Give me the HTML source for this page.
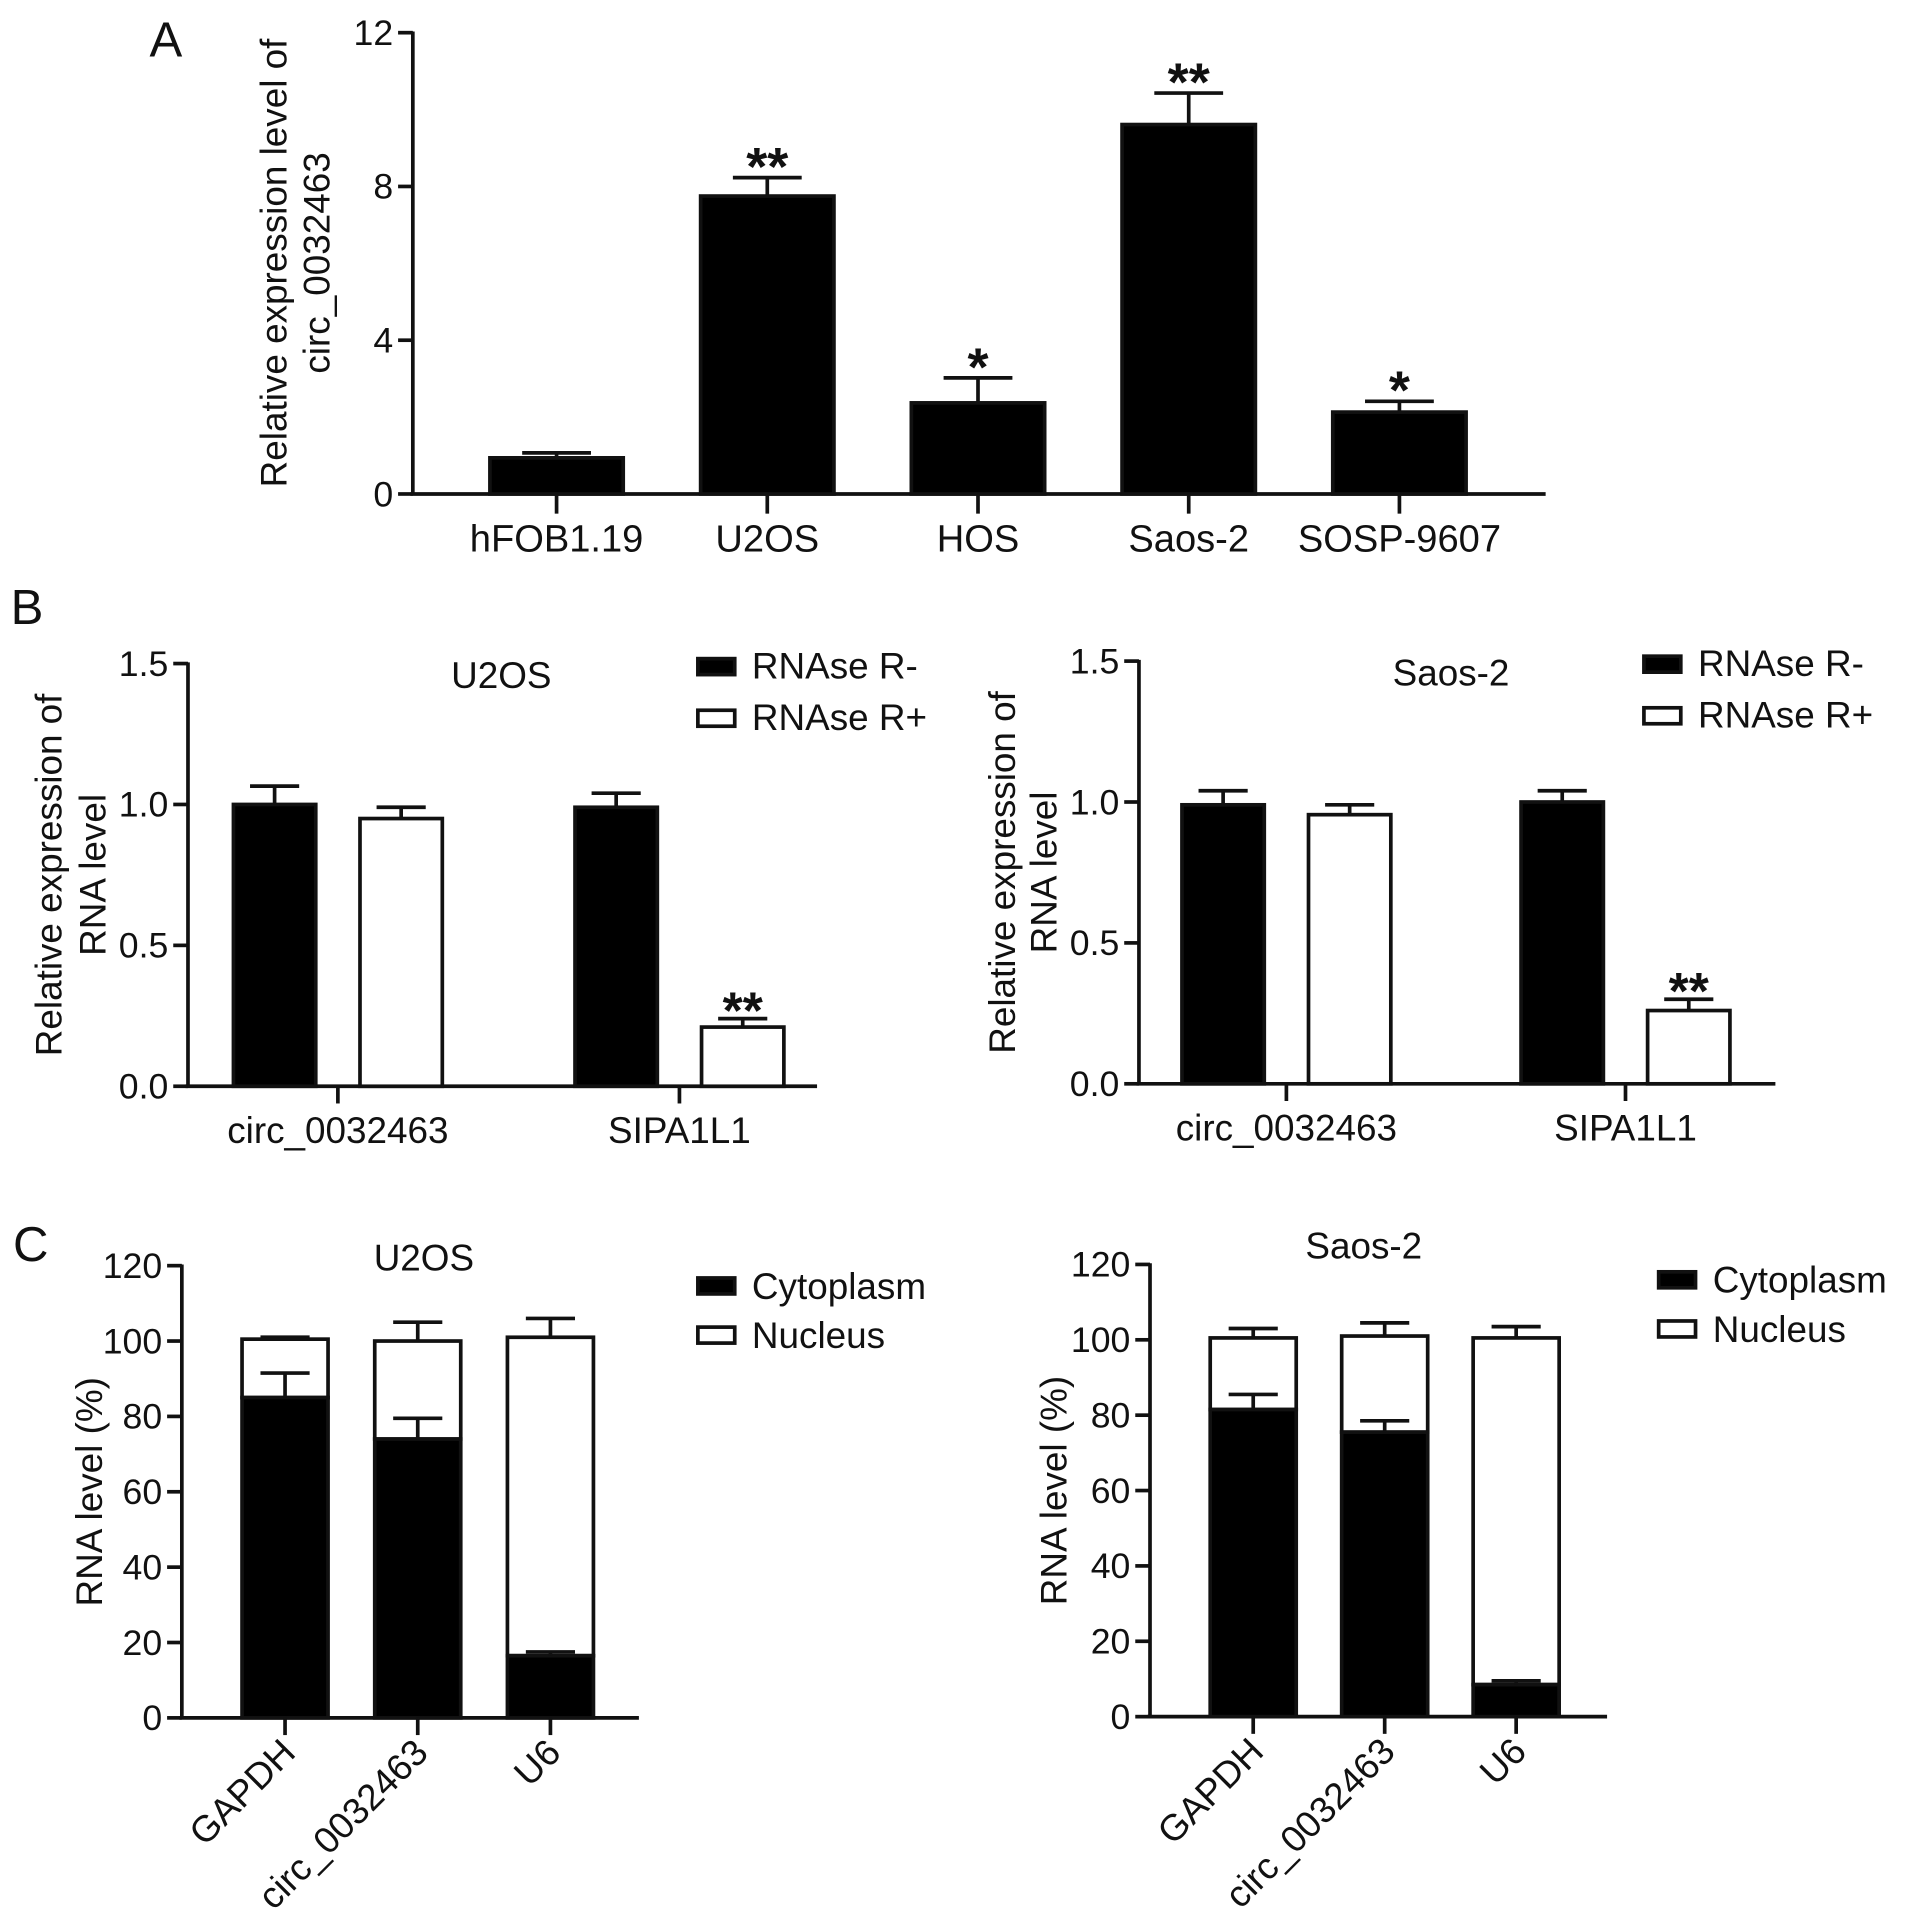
<!DOCTYPE html>
<html><head><meta charset="utf-8"><style>
html,body{margin:0;padding:0;background:#fff}
svg{display:block}
text{font-family:"Liberation Sans",Arial,sans-serif;fill:#111}
</style></head><body>
<svg id="fig" width="1913" height="1928" viewBox="0 0 1557 1569" preserveAspectRatio="none" xmlns="http://www.w3.org/2000/svg"></svg>
<script>
// Panel A data
const aCats=["hFOB1.19","U2OS","HOS","Saos-2","SOSP-9607"];
const aVals=[0.94,7.75,2.37,9.61,2.13];
const aErr=[1.07,8.23,3.02,10.43,2.41];
const aSig=["","**","*","**","*"];
const aTicks=[0,4,8,12];
// Panel B data
const bCats=["circ_0032463","SIPA1L1"];
const bU2osMinus=[1.0,0.99];
const bU2osMinusErr=[1.065,1.04];
const bU2osPlus=[0.95,0.21];
const bU2osPlusErr=[0.99,0.24];
const bSaosMinus=[0.99,1.0];
const bSaosMinusErr=[1.04,1.04];
const bSaosPlus=[0.955,0.26];
const bSaosPlusErr=[0.99,0.30];
const bSig=["","**"];
const bTicks=[0.0,0.5,1.0,1.5];
// Panel C data
const cCats=["GAPDH","circ_0032463","U6"];
const cU2osCyto=[85,74,16.5];
const cU2osCytoErr=[91.5,79.5,17.5];
const cU2osTotal=[100.5,100,101];
const cU2osTotalErr=[101,105,106];
const cSaosCyto=[81.5,75.5,8.5];
const cSaosCytoErr=[85.5,78.5,9.5];
const cSaosTotal=[100.5,101,100.5];
const cSaosTotalErr=[103,104.5,103.5];
const cTicks=[0,20,40,60,80,100,120];

const svg=document.getElementById('fig');
const NS="http://www.w3.org/2000/svg";
function mk(tag,attrs,name,parent){
  const e=document.createElementNS(NS,tag);
  for(const k in attrs)e.setAttribute(k,attrs[k]);
  
  
  (parent||svg).appendChild(e);return e;
}
function txt(x,y,s,size,anchor,name,extra){
  const t=mk('text',Object.assign({x:x,y:y,'font-size':size,'text-anchor':anchor||'middle'},extra||{}),name);
  t.textContent=s;return t;
}
function line(x1,y1,x2,y2,w,name){return mk('line',{x1:x1,y1:y1,x2:x2,y2:y2,stroke:'#111','stroke-width':w||3},name);}
function yAxis(x,y0,y1,vmax,ticks,x2,name,fmt){
  const ys=v=>y0-(v/vmax)*(y0-y1);
  line(x,y1-1,x,y0+1,3,name+'-y-axis');
  line(x-2,y0,x2,y0,3,name+'-x-axis');
  ticks.forEach(t=>{line(x-12,ys(t),x,ys(t),3,name+'-y-tick');
    txt(x-16,ys(t)+10,fmt(t),29,'end',name+'-y-tick-label');});
  return ys;
}
function bar(x,w,ys,v,fill,name){
  mk('rect',{x:x,y:ys(v),width:w,height:ys(0)-ys(v),fill:fill,stroke:'#111','stroke-width':3},name);
}
function err(cx,ys,v,e,cw,name){
  line(cx,ys(v),cx,ys(e),3,name);
  line(cx-cw/2,ys(e),cx+cw/2,ys(e),3,name+'-cap');
}

// ===== Panel A =====
txt(135,46,"A",40,'middle','panel-a-label');
(function(){
  const ax=336,y0=402,y1=26.6;
  const ys=yAxis(ax,y0,y1,12,aTicks,1258,'panel-a',t=>String(t));
  const c0=453,step=171.5,w=108.5;
  aCats.forEach((c,i)=>{
    const cx=c0+i*step;
    err(cx,ys,aVals[i],aErr[i],56,'panel-a-error-bar');
    bar(cx-w/2,w,ys,aVals[i],'#000','bar-'+c.toLowerCase());
    line(cx,y0,cx,y0+16,3,'panel-a-x-tick');
    txt(cx,449,c,31,'middle','panel-a-x-label');
    if(aSig[i])txt(cx,ys(aErr[i])+6,aSig[i],44,'middle','panel-a-significance',{'font-weight':'bold'});
  });
  txt(0,0,"Relative expression level of",30,'middle','panel-a-y-title',{transform:'translate(233,214) rotate(-90)'});
  txt(0,0,"circ_0032463",30,'middle','panel-a-y-title-2',{transform:'translate(268,214) rotate(-90)'});
})();

// ===== Panel B =====
txt(22,508,"B",40,'middle','panel-b-label');
function panelB(ax,y0,xend,minus,minusErr,plus,plusErr,title,tx,legX,yt1,yt2,pref,bx){
  const y1=y0-344;
  const ys=yAxis(ax,y0,y1,1.5,bTicks,xend,pref,t=>t.toFixed(1));
  const w=67;
  bCats.forEach((c,i)=>{
    const xb=bx[i];
    err(xb+w/2,ys,minus[i],minusErr[i],40,pref+'-error-bar');
    bar(xb,w,ys,minus[i],'#000',pref+'-bar-rnase-minus');
    const xw=xb+103;
    err(xw+w/2,ys,plus[i],plusErr[i],40,pref+'-error-bar');
    bar(xw,w,ys,plus[i],'#fff',pref+'-bar-rnase-plus');
    if(bSig[i])txt(xw+w/2,ys(plusErr[i])+8,bSig[i],42,'middle',pref+'-significance',{'font-weight':'bold'});
    const gc=xb+(w+103)/2;
    line(gc,y0,gc,y0+14,3,pref+'-x-tick');
    txt(gc,y0+46,c,30,'middle',pref+'-x-label');
  });
  txt(tx,y1+20,title,30,'middle',pref+'-title');
  mk('rect',{x:legX,y:y1-4,width:30,height:13,fill:'#000',stroke:'#111','stroke-width':3},pref+'-legend-swatch-minus');
  txt(legX+44,y1+12,"RNAse R-",30,'start',pref+'-legend-minus');
  mk('rect',{x:legX,y:y1+38,width:30,height:13,fill:'#fff',stroke:'#111','stroke-width':3},pref+'-legend-swatch-plus');
  txt(legX+44,y1+54,"RNAse R+",30,'start',pref+'-legend-plus');
  txt(0,0,"Relative expression of",30,'middle',pref+'-y-title',{transform:'translate('+yt1+','+(y0-172)+') rotate(-90)'});
  txt(0,0,"RNA level",30,'middle',pref+'-y-title-2',{transform:'translate('+yt2+','+(y0-172)+') rotate(-90)'});
}
panelB(153,884,665,bU2osMinus,bU2osMinusErr,bU2osPlus,bU2osPlusErr,"U2OS",408,568,50,86,'panel-b-u2os',[190,468]);
panelB(927,882,1445,bSaosMinus,bSaosMinusErr,bSaosPlus,bSaosPlusErr,"Saos-2",1181,1338,826,860,'panel-b-saos2',[962,1238]);

// ===== Panel C =====
txt(25,1026,"C",40,'middle','panel-c-label');
function panelC(ax,y0,xend,cyto,cytoErr,tot,totErr,title,tx,ty,legX,legY,yt,pref,bx){
  const y1=y0-368;
  const ys=yAxis(ax,y0,y1,120,cTicks,xend,pref,t=>String(t));
  const w=70;
  cCats.forEach((c,i)=>{
    const xb=bx[i],cx=xb+w/2;
    err(cx,ys,tot[i],totErr[i],40,pref+'-nucleus-error-bar');
    mk('rect',{x:xb,y:ys(tot[i]),width:w,height:ys(cyto[i])-ys(tot[i]),fill:'#fff',stroke:'#111','stroke-width':3},pref+'-bar-nucleus');
    mk('rect',{x:xb,y:ys(cyto[i]),width:w,height:ys(0)-ys(cyto[i]),fill:'#000',stroke:'#111','stroke-width':3},pref+'-bar-cytoplasm');
    err(cx,ys,cyto[i],cytoErr[i],40,pref+'-cytoplasm-error-bar');
    line(cx,y0,cx,y0+14,3,pref+'-x-tick');
    txt(0,0,c,30,'end',pref+'-x-label',{transform:'translate('+(cx+10)+','+(y0+30)+') rotate(-45)'});
  });
  txt(tx,ty,title,30,'middle',pref+'-title');
  mk('rect',{x:legX,y:legY,width:30,height:13,fill:'#000',stroke:'#111','stroke-width':3},pref+'-legend-swatch-cytoplasm');
  txt(legX+44,legY+17,"Cytoplasm",30,'start',pref+'-legend-cytoplasm');
  mk('rect',{x:legX,y:legY+40,width:30,height:13,fill:'#fff',stroke:'#111','stroke-width':3},pref+'-legend-swatch-nucleus');
  txt(legX+44,legY+57,"Nucleus",30,'start',pref+'-legend-nucleus');
  txt(0,0,"RNA level (%)",30,'middle',pref+'-y-title',{transform:'translate('+yt+','+(y0-184)+') rotate(-90)'});
}
panelC(148,1398,520,cU2osCyto,cU2osCytoErr,cU2osTotal,cU2osTotalErr,"U2OS",345,1034,568,1040,83,'panel-c-u2os',[197,305,413]);
panelC(936,1397,1308,cSaosCyto,cSaosCytoErr,cSaosTotal,cSaosTotalErr,"Saos-2",1110,1024,1350,1035,868,'panel-c-saos2',[985,1092,1199]);
</script>
</body></html>
